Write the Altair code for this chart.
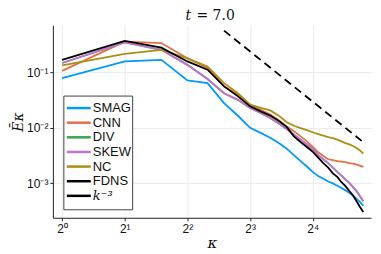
import altair as alt
import pandas as pd

kappa = list(range(1, 29))
smag = [0.079, 0.158, 0.169, 0.072, 0.064, 0.028, 0.0165, 0.0100, 0.0081, 0.0066, 0.0053, 0.0042, 0.0032,
        0.0025, 0.0020, 0.0016, 0.00134, 0.0012, 0.00107, 0.00099, 0.0009, 0.00082, 0.00074, 0.00067,
        0.0006, 0.00052, 0.00046, 0.00039]
cnn = [0.107, 0.36, 0.34, 0.181, 0.12, 0.056, 0.040, 0.0261, 0.0212, 0.0173, 0.0137, 0.0106, 0.0087,
       0.0070, 0.0057, 0.0045, 0.0036, 0.0031, 0.0027, 0.0026, 0.0025, 0.00245, 0.0024, 0.0023,
       0.00226, 0.00217, 0.00208, 0.00197]
div = [0.148, 0.35, 0.256, 0.137, 0.076, 0.042, 0.032, 0.0228, 0.0185, 0.0150, 0.0119, 0.0095, 0.0075,
       0.0061, 0.0050, 0.0041, 0.0032, 0.0027, 0.0023, 0.0019, 0.0016, 0.00137, 0.00116, 0.00101,
       0.00085, 0.00072, 0.00058, 0.00047]
skew = [0.148, 0.35, 0.256, 0.137, 0.076, 0.042, 0.032, 0.0228, 0.0185, 0.0150, 0.0119, 0.0095, 0.0075,
        0.0061, 0.0050, 0.0041, 0.0032, 0.0027, 0.0023, 0.0019, 0.0016, 0.00137, 0.00116, 0.00101,
        0.00085, 0.00072, 0.00058, 0.00047]
nc = [0.134, 0.217, 0.256, 0.18, 0.128, 0.064, 0.042, 0.0261, 0.0228, 0.0206, 0.0166, 0.0126, 0.0109,
      0.0099, 0.0091, 0.0083, 0.0077, 0.0072, 0.0068, 0.0065, 0.0061, 0.0057, 0.0053, 0.0050,
      0.0047, 0.0043, 0.0039, 0.0034]
fdns = [0.169, 0.37, 0.28, 0.158, 0.112, 0.056, 0.037, 0.0244, 0.0198, 0.0166, 0.0133, 0.0104, 0.0070,
        0.0055, 0.0045, 0.0037, 0.0029, 0.0023, 0.0019, 0.0015, 0.0013, 0.00104, 0.00088, 0.00072,
        0.0006, 0.00047, 0.00037, 0.0003]
slope_k = [6, 27.5]
slope_e = [0.57, 0.0058]

names = ["SMAG", "CNN", "DIV", "SKEW", "NC", "FDNS"]
colors = ["#009AFA", "#E36F47", "#3EA44E", "#C371D2", "#AC8E18", "#000000"]
ref_name = "k⁻³"
x_ticks = [1, 2, 4, 8, 16]
y_ticks = [0.001, 0.01, 0.1]
title_parts = ["t", "= 7.0"]

series = [smag, cnn, div, skew, nc, fdns]
rows = []
for n, vals in zip(names, series):
    for k, v in zip(kappa, vals):
        rows.append({"k": k, "E": v, "model": n})
df = pd.DataFrame(rows)
ref = pd.DataFrame({"k": slope_k, "E": slope_e, "model": [ref_name, ref_name]})
leg = pd.DataFrame({"model": names + [ref_name]})

xs = alt.Scale(type="log", base=2, domain=[0.903, 30.5], nice=False)
ys = alt.Scale(type="log", domain=[0.000237, 0.711], nice=False)
cs = alt.Scale(domain=names + [ref_name], range=colors + ["#000000"])

xlabel = ("datum.value == 1 ? '2⁰' : datum.value == 2 ? '2¹' : datum.value == 4 ? '2²' : "
          "datum.value == 8 ? '2³' : '2⁴'")
ylabel = "datum.value < 0.005 ? '10⁻³' : datum.value < 0.05 ? '10⁻²' : '10⁻¹'"

common_axis = dict(domainColor="#222", domainWidth=1, tickColor="#222", tickSize=3,
                   labelFont="Liberation Sans", labelFontSize=12, labelColor="#111",
                   gridColor="#ebebeb", gridWidth=1, titleFont="DejaVu Serif",
                   titleFontStyle="italic", titleFontWeight="normal", titleColor="#111")
xaxis = alt.Axis(values=x_ticks, labelExpr=xlabel, title="κ", labelPadding=3, titlePadding=1,
                 titleFontSize=15, **common_axis)
yaxis = alt.Axis(values=y_ticks, labelExpr=ylabel, title="Ēκ", labelPadding=2, titlePadding=1,
                 titleFontSize=14, **common_axis)

enc = dict(x=alt.X("k:Q", scale=xs, axis=xaxis),
           y=alt.Y("E:Q", scale=ys, axis=yaxis),
           color=alt.Color("model:N", scale=cs, legend=None))

base = alt.Chart(df).mark_line(strokeWidth=1.8).encode(**enc)
layers = [base.transform_filter(alt.datum.model == n) for n in names]
layers.append(alt.Chart(ref).mark_line(strokeWidth=1.8, strokeDash=[8, 5]).encode(**enc))

one = alt.Chart(leg).transform_filter(alt.datum.model == "SMAG")
# title
layers.append(one.mark_text(align="left", baseline="alphabetic", font="DejaVu Serif", fontStyle="italic",
                            fontSize=14, color="#111", text=title_parts[0]).encode(
    x=alt.value(133), y=alt.value(-5)))
layers.append(one.mark_text(align="left", baseline="alphabetic", font="DejaVu Serif",
                            fontSize=14, color="#111", text=title_parts[1]).encode(
    x=alt.value(144), y=alt.value(-5)))

# legend box
layers.append(one.mark_rect(fill="white", stroke="#444", strokeWidth=1).encode(
    x=alt.value(11), x2=alt.value(80), y=alt.value(71), y2=alt.value(185)))
for i, (n, c) in enumerate(zip(names + [ref_name], colors + ["#000000"])):
    ly = 83 + i * 14.67
    sub = alt.Chart(leg).transform_filter(alt.datum.model == n)
    layers.append(sub.mark_rule(color=c, strokeWidth=2.5).encode(
        x=alt.value(14), x2=alt.value(38), y=alt.value(ly)))
    if n == ref_name:
        tm = sub.mark_text(align="left", baseline="middle", font="DejaVu Serif", fontStyle="italic",
                           fontSize=13, color="#111", text=n)
    else:
        tm = sub.mark_text(align="left", baseline="middle", font="Liberation Sans",
                           fontSize=13, color="#111", text=n)
    layers.append(tm.encode(x=alt.value(40), y=alt.value(ly)))

chart = alt.layer(*layers).properties(
    width=319, height=193,
    autosize=alt.AutoSizeParams(type="none"),
    padding={"left": 45, "top": 17, "right": 2, "bottom": 34},
).configure_view(strokeWidth=0)

chart.save("out.html", embed_options={"renderer": "svg", "actions": False})
